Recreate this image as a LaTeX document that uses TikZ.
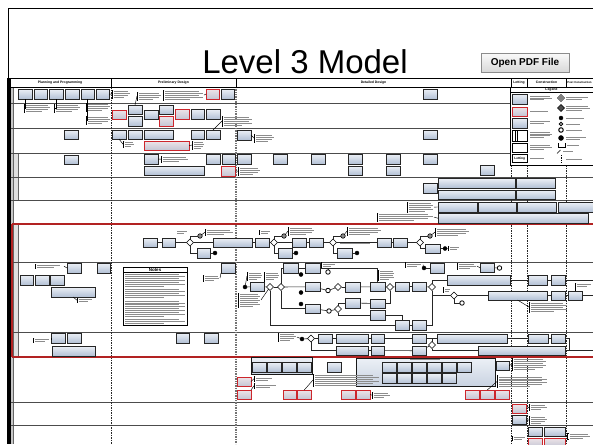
\documentclass[tikz,border=0pt]{standalone}
\usepackage{fontspec}
\setmainfont{Liberation Sans}
\usetikzlibrary{shapes.geometric}
\definecolor{tA}{RGB}{236,240,246}
\definecolor{tB}{RGB}{178,192,213}
\definecolor{rA}{RGB}{238,228,232}
\definecolor{rB}{RGB}{196,198,212}
\definecolor{redln}{RGB}{178,34,34}
\definecolor{redbx}{RGB}{205,38,44}
\newcommand\mybx[6][task]{\node[#1,minimum width={(#5)-(#3)},minimum height={(#6)-(#4)}] (#2) at ({((#3)+(#5))/2},{((#4)+(#6))/2}) {};}
\newcommand\mytl[4]{%
  \foreach \ii in {1,...,#4}{%
    \pgfmathsetmacro\lyy{(#2)+\ii*1.9-0.5}%
    \pgfmathsetmacro\lww{(#3)*(1-0.35*(\ii==#4)*(#4>1)-0.1*mod(\ii,2)*(\ii<#4))}%
    \draw[txl] ({#1},\lyy) -- ++(\lww,0);
  }}
\newcommand\myann[5]{%
  \pgfmathsetmacro\annh{(#5)*1.9+0.6}%
  \pgfmathsetmacro\annm{(#3)+\annh/2}%
  \pgfmathsetmacro\anne{(#2)+(#4)+3}%
  \coordinate (#1) at (#2,\annm);%
  \coordinate (#1e) at (\anne,\annm);%
  \draw[annl] ({(#2)+1.3},#3) -- (#2,#3) -- (#2,{(#3)+\annh}) -- ({(#2)+1.3},{(#3)+\annh});%
  \mytl{(#2)+2}{#3}{#4}{#5}%
}
\begin{document}
\begin{tikzpicture}[x=1pt,y=-1pt,
  task/.style={rectangle,draw=black!85,line width=0.75pt,top color=tA,bottom color=tB,inner sep=0pt,outer sep=0pt},
  redtask/.style={task,draw=redbx,line width=0.9pt,top color=rA,bottom color=rB},
  plainbox/.style={rectangle,draw=black,line width=0.9pt,fill=white,inner sep=0pt,outer sep=0pt},
  grp/.style={rectangle,draw=black!90,line width=1pt,top color=tA,bottom color=tB!70!white,inner sep=0pt,outer sep=0pt},
  gw/.style={diamond,draw=black,fill=white,line width=0.6pt,minimum size=7pt,inner sep=0pt,outer sep=0pt},
  evf/.style={circle,draw=black,fill=black,minimum size=4pt,inner sep=0pt,outer sep=0pt},
  evh/.style={circle,draw=black,fill=white,line width=0.8pt,minimum size=4.5pt,inner sep=0pt,outer sep=0pt},
  evx/.style={circle,draw=black,fill=black!45,line width=0.6pt,minimum size=4.5pt,inner sep=0pt,outer sep=0pt},
  flow/.style={draw=black!85,line width=0.6pt},
  annl/.style={draw=black,line width=0.45pt},
  txl/.style={draw=black!45,line width=0.45pt},
  lane/.style={draw=black!70,line width=1pt},
  redline/.style={draw=redln,line width=1.2pt},
  sepd/.style={draw=black!85,line width=0.6pt,dash pattern=on 1.5pt off 1pt},
  sepg/.style={draw=black!55,line width=1.2pt,dash pattern=on 1pt off 0.7pt},
  hdr/.style={font=\fontsize{3.4}{4}\selectfont\bfseries,inner sep=0pt},
]
\useasboundingbox (0,0) rectangle (593,444);
\fill[white] (0,0) rectangle (593,444);
\clip (0,0) rectangle (593,444);
% frame
\draw[line width=0.8pt] (8,444) -- (8,8) -- (594,8);
\fill[black] (7,78) rectangle (10.5,444);
% title and button
\node[font=\fontsize{33}{35}\selectfont,anchor=base,inner sep=0pt] (title) at (305,73) {Level 3 Model};
\node[draw=black!45,top color=black!2,bottom color=black!15,line width=0.6pt,minimum width=88pt,minimum height=19pt,inner sep=0pt,font=\fontsize{10}{12}\selectfont\bfseries] (pdf) at (525,62.5) {Open PDF File};
% label column
\fill[black!22] (10.5,87) rectangle (13,444);
\fill[black!12] (13,153) rectangle (18,200);
\fill[black!12] (13,224) rectangle (18,357);
\draw[black!60,line width=0.6pt] (18,153) -- (18,200) (18,224) -- (18,357) (13,87) -- (13,444);
% lanes
\foreach \yy in {103,128,153} \draw[lane] (10.5,\yy) -- (510,\yy);
\foreach \yy in {177,200,262,332,402,425} \draw[lane] (10.5,\yy) -- (593,\yy);
% separators
\draw[sepd] (111,87) -- (111,444);
\draw[sepg] (236,87) -- (236,444);
\foreach \xx in {511,527,566} \draw[sepd] (\xx,165) -- (\xx,444);
% red band
\draw[redline] (12,224) -- (593,224);
\draw[redline] (12,357) -- (593,357);
\draw[redline] (12,224) -- (12,357);
% header
\draw[line width=0.7pt,fill=white] (10,78) rectangle (594,87);
\foreach \xx in {111,236,511,527,566} \draw[line width=0.7pt] (\xx,78) -- (\xx,87);
\node[hdr] (h1) at (60,82.5) {Planning and Programming};
\node[hdr] (h2) at (173.5,82.5) {Preliminary Design};
\node[hdr] (h3) at (373.5,82.5) {Detailed Design};
\node[hdr] (h4) at (519,82.5) {Letting};
\node[hdr] (h5) at (546.5,82.5) {Construction};
\node[hdr,font=\fontsize{2.8}{3.5}\selectfont\bfseries,anchor=west] (h6) at (567.2,82.5) {Post Construction};
% ===== lane 1
\mybx{pa1}{18}{89}{32}{99}\mybx{pa2}{34}{89}{47}{99}\mybx{pa3}{49}{89}{63}{99}
\mybx{pa4}{65}{89}{79}{99}\mybx{pa5}{81}{89}{94}{99}\mybx{pa6}{96}{89}{109}{99}
\myann{n1}{24}{104}{24}{4}\draw[annl] (pa1.south) |- (n1);
\myann{n2}{54}{104}{24}{4}\draw[annl] (pa3.south) |- (n2);
\myann{n3}{86}{103}{22}{4}\myann{n3b}{86}{116}{22}{4}
\draw[annl] (pa5.south) |- (n3);\draw[annl] (pa5.south) |- (n3b);
\myann{n4}{112}{90}{16}{4}\draw[annl] (pa6.east) -- (n4);
\myann{n5}{137}{92}{22}{4}
\myann{n6}{163}{90}{38}{5}
\mybx[redtask]{r1}{206}{89}{219}{99}\mybx{pb1}{221}{89}{234}{99}
\draw[annl] (r1.west) -- (n6e);
\mybx{d1}{423}{89}{437}{99}
% ===== lane 2
\mybx[redtask]{rq1}{112}{110}{126}{119}
\mybx{pb2}{128}{105}{142}{114}\mybx{pb3}{128}{116}{142}{126}
\mybx{pb4}{144}{110}{158}{119}
\mybx{pb5}{159}{105}{173}{114}\mybx[redtask]{rq2}{159}{116}{173}{126}
\mybx[redtask]{rq3}{175}{109}{189}{119}
\mybx{pb6}{191}{109}{204}{119}\mybx{pb7}{206}{109}{220}{119}
\draw[annl] (n5) -- (pb2.north);
\myann{n7}{222}{116}{28}{5}
% ===== lane 3
\mybx{pc0}{64}{130}{78}{139}
\mybx{pc1}{112}{130}{126}{139}\mybx{pc2}{128}{130}{142}{139}\mybx{pc3}{144}{130}{173}{139}
\mybx{pc4}{191}{130}{204}{139}\mybx{pc5}{206}{130}{220}{139}
\mybx[redtask]{rc1}{144}{141}{189}{150}
\myann{n8}{192}{141}{10}{4}\draw[annl] (rc1.east) -- (n8);
\myann{n9}{123}{141}{9}{3}\draw[annl] (pc1.south) -- (n9);
\draw[annl] (pc5.north) -- (n7);
\mybx{dc1}{237}{130}{251}{140}
\myann{n10}{254}{134}{18}{4}\draw[annl] (dc1.east) -- (n10);
\mybx{dc2}{423}{130}{437}{139}
% ===== lane 4
\mybx{pd0}{64}{155}{78}{164}
\mybx{pd1}{144}{154}{158}{164}
\myann{n11}{161}{156}{25}{3}\draw[annl] (pd1.east) -- (n11);
\mybx{pd2}{206}{154}{220}{164}\mybx{pd3}{222}{154}{235}{164}
\mybx{pd4}{144}{166}{204}{175}
\mybx[redtask]{rd1}{221}{166}{235}{176}
\myann{n12}{238}{167}{20}{4}\draw[annl] (rd1.east) -- (n12);
\mybx{dd1}{237.5}{154}{251}{164}\mybx{dd2}{273}{154}{287}{164}\mybx{dd3}{311}{154}{325}{164}
\mybx{dd4}{348}{154}{362}{164}\mybx{dd5}{386}{154}{400}{164}\mybx{dd6}{423}{154}{437}{164}
\mybx{dd7}{348}{166}{362}{175}\mybx{dd8}{386}{166}{400}{175}\mybx{dd9}{480}{165}{494}{175}
% ===== lane 5
\mybx{de1}{423}{183}{437}{193}
\mybx{de2}{438}{178.5}{515}{188}\mybx{de3}{516}{178.5}{555}{188}
\mybx{de4}{438}{190}{515}{199.5}\mybx{de5}{516}{190}{555}{199.5}
% ===== lane 6
\myann{n13}{407}{202}{24}{5}
\mybx{df1}{438}{202}{477}{212}\mybx{df2}{478}{202}{516}{212}
\mybx{df3}{517}{202}{556}{212}\mybx{df4}{558}{202}{598}{212}
\mybx{df5}{438}{213.5}{588}{223}
\draw[annl] (df1.west) -- (n13e);
\myann{n14}{377}{213}{54}{4}\draw[annl] (df5.west) -- (n14e);
% ===== lane 7
\mybx{ha1}{143}{238}{157}{247}\mybx{ha2}{162}{238}{175}{247}
\node[gw] (ga1) at (190,242.5) {};
\node[evx] (evx1) at (200,236) {};
\myann{n15}{205}{229}{26}{3}
\mybx{ha3}{197}{248}{210}{258}
\node[evf] (evf1) at (215,253) {};
\mybx{ha4}{213}{238}{252}{247}
\mytl{177}{229.5}{11}{2}
\draw[flow] (ha1) -- (ha2); \draw[flow] (ha2) -- (ga1); \draw[flow] (ga1) -- (ha4);
\draw[flow] (ga1) |- (evx1); \draw[flow] (ga1) |- (ha3); \draw[flow] (ha3) -- (evf1);
\draw[annl] (evx1) -- (n15);
\mybx{hb1}{255}{238}{269}{247}
\node[gw] (gb1) at (274,242.5) {};
\node[evx] (evx2) at (284,236) {};
\myann{n16}{288}{227}{24}{4}
\mybx{hb2}{278}{248}{292}{258}\node[evf] (evf2) at (296,253) {};
\mybx{hb3}{292}{238}{306}{247}\mybx{hb4}{309}{238}{323}{247}
\node[gw] (gb2) at (333,242.5) {};
\node[evx] (evx3) at (343,236) {};
\myann{n17}{347}{227}{32}{4}
\mybx{hb5}{337}{248}{352}{258}\node[evf] (evf3) at (357,253) {};
\mybx{hb6}{377}{238}{391}{247}\mybx{hb7}{393}{238}{407}{247}
\node[gw] (gb3) at (420,242.5) {};
\node[evx] (evx4) at (430,236) {};
\myann{n18}{435}{228}{32}{4}
\mybx{hb8}{425}{244}{440}{253}\node[evf] (evf4) at (445,248.5) {};
\myann{n19}{448}{246}{10}{2}
\myann{n20}{259}{230}{10}{2}
\mytl{340}{242}{30}{1}
\draw[flow] (ha4) -- (hb1); \draw[flow] (hb1) -- (gb1); \draw[flow] (gb1) -- (hb3);
\draw[flow] (hb3) -- (hb4); \draw[flow] (hb4) -- (gb2); \draw[flow] (gb2) -- (hb6);
\draw[flow] (hb6) -- (hb7); \draw[flow] (hb7) -- (gb3);
\draw[flow] (gb1) |- (evx2); \draw[flow] (gb1) |- (hb2); \draw[flow] (hb2) -- (evf2);
\draw[flow] (gb2) |- (evx3); \draw[flow] (gb2) |- (hb5); \draw[flow] (hb5) -- (evf3);
\draw[flow] (gb3) |- (evx4); \draw[flow] (gb3) |- (hb8); \draw[flow] (hb8) -- (evf4);
\draw[annl] (evx2) -- (n16); \draw[annl] (evx3) -- (n17); \draw[annl] (evx4) -- (n18);
\draw[annl] (evf4) -- (n19);
% ===== lane 8 planning / preliminary
\myann{n21}{35}{264}{26}{2}
\mybx{ia1}{67}{263}{81}{273}\mybx{ia2}{97}{263}{110}{273}
\draw[annl] (n21e) -- (ia1.west);
\mybx{ia3}{20}{275}{33}{285}\mybx{ia4}{35}{275}{49}{285}\mybx{ia5}{50}{275}{64}{285}
\mybx{ia6}{51}{287}{95}{297}
\myann{n22}{77}{298}{14}{2}\draw[annl] (ia6.south) -- (n22);
\node[draw=black,line width=0.8pt,fill=white,minimum width=64pt,minimum height=58pt,inner sep=0pt] (notes) at (155,296) {};
\node[font=\fontsize{4.5}{5}\selectfont\bfseries,inner sep=0pt] (notest) at (155,269.6) {Notes};
\draw[line width=0.5pt] (123,272.3) -- (187,272.3);
\mytl{125}{273}{60}{7}
\mytl{125}{288}{60}{5}
\mytl{125}{299.5}{60}{9}
\mytl{125}{318}{60}{3}
\mybx{ib1}{221}{263}{235}{273}
\myann{n23}{203}{275}{14}{3}\draw[annl] (ib1.south west) -- (n23e);
% ===== lane 8 detailed
\node[evf] (se1) at (245,287) {};
\mybx{ic1}{250}{282}{264}{291.5}
\node[gw] (gc1) at (270,287) {};
\node[gw] (gc2) at (281,287) {};
\mybx{ic2}{283}{263}{298}{273}
\mybx{ic3}{305}{263}{320}{273}
\node[evf] (ev1) at (301,274.5) {};
\node[evh] (eh1) at (328,272) {};
\node[evf] (ev2) at (301,292.5) {};
\mybx{ic4}{305}{282}{320}{291.5}
\node[evh] (eh2) at (328,290.5) {};
\node[gw] (gc3) at (338,287) {};
\mybx{ic5}{345}{282}{360}{292}
\mybx{ic6}{370}{282}{385}{291.5}
\node[gw] (gc4) at (390,287) {};
\mybx{ic7}{395}{282}{409}{291.5}\mybx{ic8}{412}{282}{426}{291.5}
\node[gw] (gc5) at (432,287) {};
\node[evf] (ev3) at (301,304) {};
\mybx{ic10}{305}{304}{320}{313}
\node[evh] (eh3) at (329,311) {};
\node[gw] (gc6) at (338,309) {};
\mybx{ic11}{345}{298}{360}{308}
\mybx{ic12}{370}{299}{385}{308}
\mybx{ic13}{370}{310}{385}{320}
\mybx{ic14}{395}{320}{409}{330}\mybx{ic15}{412}{320}{426}{330}
\draw[flow] (se1) -- (ic1); \draw[flow] (ic1) -- (gc1); \draw[flow] (gc1) -- (gc2);
\draw[flow] (gc2) -- (ic4); \draw[flow] (ic4) -- (eh2); \draw[flow] (eh2) -- (gc3);
\draw[flow] (gc3) -- (ic5); \draw[flow] (ic5) -- (ic6); \draw[flow] (ic6) -- (gc4);
\draw[flow] (gc4) -- (ic7); \draw[flow] (ic7) -- (ic8); \draw[flow] (ic8) -- (gc5);
\draw[flow] (gc2) |- (ic2); \draw[flow] (ic2) -- (ic3); \draw[flow] (ic3) -| (ic6.north);
\draw[flow] (ic3) -| (eh1);
\draw[flow] (gc2) |- (ic10); \draw[flow] (ic10) -- (eh3); \draw[flow] (eh3) -- (gc6);
\draw[flow] (gc6) |- (ic11); \draw[flow] (ic11) -- (ic12); \draw[flow] (gc6) |- (ic13);
\draw[flow] (ic12) -| (gc4); \draw[flow] (ic13.east) -| (ic14.north);
\draw[flow] (gc1) |- (ic14); \draw[flow] (ic14) -- (ic15); \draw[flow] (ic15) -| (gc5);
\myann{n29}{247}{272}{13}{4}\draw[annl] (se1) -- (n29);
\myann{n30}{264}{272}{13}{4}\draw[annl] (ic1.north east) -- (n30);
\myann{n31}{238}{293}{20}{7}\draw[annl] (gc1) -- (n31e);
\myann{n32}{321}{262.5}{13}{2}
\myann{n33}{378}{270}{14}{5}
% right part lane 8
\myann{n24}{405}{262.5}{15}{2}
\node[evf] (ev4) at (424,268) {};
\mybx{ic16}{430}{263}{444}{273}
\draw[flow] (ev4) -- (ic16); \draw[annl] (ev4) -- (n24e);
\mybx{ic17}{480}{263}{494}{272.5}
\node[evh] (eh4) at (499.5,268) {};
\draw[flow] (ic17) -- (eh4);
\myann{n25}{457}{263}{17}{3}\draw[annl] (ic17.west) -- (n25e);
\mybx{ic18}{447}{275}{510}{285}
\mybx{ic19}{528}{275}{547}{285}\mybx{ic20}{551}{275}{565}{285}
\coordinate (xe1) at (594,280);
\node[gw] (gc7) at (454,295.5) {};
\node[evh] (eh5) at (462,303) {};
\myann{n26}{443}{287.5}{6}{2}
\mybx{ic21}{488}{291}{547}{300}
\mybx{ic22}{551}{291}{565}{300}\mybx{ic23}{568}{291}{582}{300}
\coordinate (xe2) at (594,295.5);
\myann{n27}{575}{283}{16}{2}\draw[annl] (ic23.north) -- (n27);
\myann{n28}{529}{302}{36}{5}\draw[annl] (ic21.south) -- (n28);
\draw[flow] (gc5) |- (ic18); \draw[flow] (gc5) |- (gc7);
\draw[flow] (ic18) -- (ic19); \draw[flow] (ic19) -- (ic20); \draw[flow] (ic20) -- (xe1);
\draw[flow] (gc7) -- (ic21); \draw[flow] (gc7) |- (eh5);
\draw[flow] (ic21) -- (ic22); \draw[flow] (ic22) -- (ic23); \draw[flow] (ic23) -- (xe2);
% ===== lane 9
\myann{n35}{33}{338}{15}{2}
\mybx{ja1}{51}{333}{65}{343}\mybx{ja2}{67}{333}{81}{343}
\mybx{ja3}{52}{346}{95}{356}
\draw[annl] (n35e) -- (ja1.west);
\mybx{ja4}{176}{333}{189}{343}\mybx{ja5}{204}{333}{218}{343}
\myann{n36}{278}{333}{16}{4}
\node[evf] (se2) at (302,339) {};
\node[gw] (gj1) at (311,338.5) {};
\mybx{jb1}{318}{334}{332}{343}\mybx{jb2}{336}{334}{368}{343}
\mybx{jb3}{371}{334}{384}{343}\mybx{jb4}{412}{334}{426}{343}
\mybx{jb5}{437}{334}{507}{343}
\mybx{jb6}{528}{334}{548}{343}\mybx{jb7}{551}{334}{565}{343}
\mybx{jb8}{336}{346}{368}{355}\mybx{jb9}{371}{346}{384}{355}
\mybx{jb10}{412}{346}{426}{355.5}
\node[gw] (gj2) at (432,345) {};
\mybx{jb11}{478}{346}{565}{355}
\coordinate (xr) at (569,350.5);
\coordinate (xe3) at (594,350.5);
\draw[annl] (n36e) -- (se2);
\draw[flow] (se2) -- (gj1); \draw[flow] (gj1) -- (jb1); \draw[flow] (jb1) -- (jb2);
\draw[flow] (jb2) -- (jb3); \draw[flow] (jb3) -- (jb4); \draw[flow] (jb4) -- (jb5);
\draw[flow] (jb5) -- (jb6); \draw[flow] (jb6) -- (jb7); \draw[flow] (jb7) -| (xr);
\draw[flow] (jb11) -- (xr) -- (xe3);
\draw[flow] (gj1) |- (jb8); \draw[flow] (jb8) -- (jb9); \draw[flow] (jb9) -- (jb10);
\draw[flow] (jb10) -- (gj2); \draw[flow] (gj2) |- (jb11); \draw[flow] (gj2) |- (jb5);
% ===== lane 10
\node[grp,minimum width=61pt,minimum height=16.5pt] (ga) at (281.5,365.75) {};
\mybx{ka1}{252.5}{362}{266}{372}\mybx{ka2}{267.5}{362}{281}{372}
\mybx{ka3}{282.5}{362}{296}{372}\mybx{ka4}{297.5}{362}{311}{372}
\mybx{kb}{327}{362}{341}{372}
\node[grp,minimum width=139pt,minimum height=28pt] (gbx) at (425.5,372) {};
\mybx{kc1}{382}{362}{396}{372}\mybx{kc2}{397}{362}{411}{372}\mybx{kc3}{412}{362}{426}{372}
\mybx{kc4}{427}{362}{441}{372}\mybx{kc5}{442}{362}{456}{372}\mybx{kc6}{457}{362}{471}{372}
\mybx{kd1}{382}{373.5}{396}{383.5}\mybx{kd2}{397}{373.5}{411}{383.5}\mybx{kd3}{412}{373.5}{426}{383.5}
\mybx{kd4}{427}{373.5}{441}{383.5}\mybx{kd5}{442}{373.5}{456}{383.5}
\mytl{410}{357.5}{30}{1}
\mybx{ke}{496}{361}{509}{370}
\myann{n37}{512}{358}{32}{6}\draw[annl] (ke.east) -- (n37);
\mybx[redtask]{kr1}{237.5}{377}{251}{386}\mybx[redtask]{kr2}{237.5}{390}{251}{399}
\mybx[redtask]{kr3}{283}{390}{296}{399}\mybx[redtask]{kr4}{297.5}{390}{311}{399}
\mybx[redtask]{kr5}{341}{390}{355}{399}\mybx[redtask]{kr6}{356.5}{390}{370}{399}
\mybx[redtask]{kr7}{465}{390}{479}{399}\mybx[redtask]{kr8}{480.5}{390}{494}{399}
\mybx[redtask]{kr9}{495.5}{390}{509}{399}
\myann{n38}{254}{376.5}{18}{2}\draw[annl] (kr1.east) -- (n38);
\myann{n39}{254}{383.5}{22}{2}\draw[annl] (kr2.north east) -- (n39);
\myann{n40}{313}{374}{64}{6}\draw[annl] (kr4.north) -- (n40);
\myann{n41}{372}{392}{16}{3}\draw[annl] (kr6.east) -- (n41);
\myann{n42}{497}{375.5}{48}{6}\draw[annl] (kr8.north) -- (n42);
% ===== lane 11 / 12
\mybx[redtask]{kf1}{512.5}{404}{526.5}{413}\mybx{kf2}{512.5}{415}{526.5}{424}
\myann{n43}{529}{404}{16}{3}\draw[annl] (kf1.east) -- (n43);
\myann{n44}{529}{416}{16}{4}\draw[annl] (kf2.east) -- (n44);
\mybx{kg1}{528.5}{427}{542}{436}\mybx{kg2}{544}{427}{565}{436}
\mybx[redtask]{kg3}{528.5}{438}{542}{447}\mybx[redtask]{kg4}{544}{438}{565}{447}
\myann{n45}{567.5}{433}{20}{3}\draw[annl] (kg2.south east) -- (n45);
\myann{n46}{512}{436}{12}{2}
% ===== legend
\node[draw=black,line width=0.8pt,fill=white,minimum width=83pt,minimum height=78pt,inner sep=0pt] (legend) at (551.5,126) {};
\node[hdr] (legt) at (551.5,89.8) {Legend};
\draw[line width=0.5pt] (510,92.6) -- (593,92.6);
\mybx{lg1}{512.5}{94}{527}{104}\mytl{530}{94.5}{22}{3}
\mybx[redtask]{lg2}{512.5}{107}{527}{116}\mytl{530}{110}{18}{1}
\mybx{lg3}{512.5}{118}{527}{128}\mytl{530}{119.5}{22}{2}
\mybx[plainbox]{lg4}{512.5}{130}{527}{141.5}\mytl{530}{130.5}{22}{4}
\draw[line width=0.6pt] (515,130) -- (515,141.5) (517,130) -- (517,141.5);
\mybx[plainbox]{lg5}{512.5}{143.5}{527}{152}\mytl{530}{144}{22}{3}
\node[plainbox,minimum width=14.5pt,minimum height=8.5pt,font=\fontsize{3.2}{4}\selectfont\bfseries] (lg6) at (519.75,158.5) {Letting};
\mytl{530}{156.5}{14}{1}
\node[gw] (ls1) at (561,98) {};\draw[line width=0.5pt] (ls1) circle (1.5pt);\mytl{566}{96}{24}{2}
\node[gw,fill=black!70] (ls2) at (561,108) {};\mytl{566}{105}{24}{3}
\node[evf] (ls3) at (561,118) {};\mytl{566}{116.5}{18}{1}
\node[evh,minimum size=3.5pt] (ls4) at (561,124) {};\mytl{566}{122.5}{14}{1}
\node[evh,line width=1pt] (ls5) at (561,130) {};\mytl{566}{128.5}{16}{1}
\node[evf,minimum size=5pt] (ls6) at (561,138) {};\mytl{566}{136}{22}{2}
\coordinate (lb1) at (558,143); \coordinate (lb2) at (565,143);
\draw[line width=0.6pt] (lb1) -- (558,147) -- (565,147) -- (lb2);\mytl{567}{143.5}{12}{1}
\coordinate (la1) at (557,153.5); \coordinate (la2) at (560.5,150);
\draw[line width=0.6pt] (la1) -- (la2);\mytl{563}{149.5}{10}{1}
\coordinate (ld1) at (561,155); \coordinate (ld2) at (561,163);
\draw[line width=0.6pt,dash pattern=on 1pt off 0.7pt] (ld1) -- (ld2);\mytl{566}{157.5}{16}{1}
\end{tikzpicture}
\end{document}
